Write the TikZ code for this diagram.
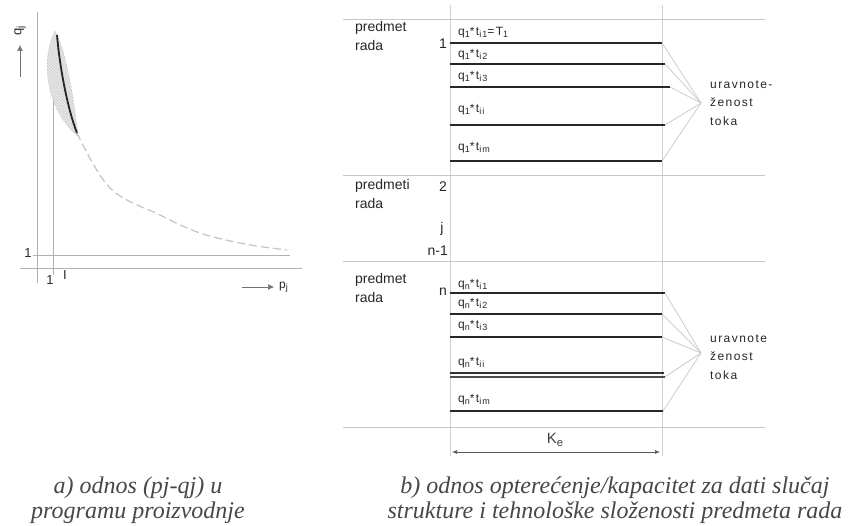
\documentclass[tikz,border=0pt]{standalone}
\usepackage{fontspec}
\setmainfont{Liberation Serif}
\setsansfont{Liberation Sans}
\newfontfamily\spacedsans[LetterSpace=12]{Liberation Sans}
\usetikzlibrary{patterns,arrows.meta}
\newcommand{\lsub}[1]{\raisebox{-0.3ex}{\scalebox{0.75}{#1}}}
\begin{document}
\begin{tikzpicture}[x=1pt,y=-1pt,
  axis/.style={draw=black!30, line width=0.9pt},
  sep/.style={draw=black!22, line width=1pt},
  vline/.style={draw=black!18, line width=1pt},
  bar/.style={draw=black!85, line width=2.6pt},
  fan/.style={draw=black!22, line width=0.7pt},
  lbl/.style={font=\sffamily\fontsize{14}{19}\selectfont, text=black!85, inner sep=0pt, align=left},
  sml/.style={font=\spacedsans\fontsize{12}{12}\selectfont, text=black!85, inner sep=0pt, anchor=west},
  fanlbl/.style={font=\spacedsans\fontsize{12}{18.5}\selectfont, text=black!85, inner sep=0pt, align=left, anchor=west},
  captxt/.style={font=\rmfamily\itshape\fontsize{24}{25}\selectfont, text=black!72, align=center, inner sep=0pt},
  axarrow/.style={draw=black!55, line width=0.7pt, -{Latex[length=6pt,width=6pt]}},
]
\useasboundingbox (0,0) rectangle (868,526);

% ---------- left graph ----------
\coordinate (ya1) at (37,12);  \coordinate (ya2) at (37,283);
\coordinate (xa1) at (20,268); \coordinate (xa2) at (302,268);
\coordinate (v1a) at (53,35);  \coordinate (v1b) at (53,275);
\coordinate (h1a) at (33,255); \coordinate (h1b) at (290,255);
\draw[axis] (ya1) -- (ya2);
\draw[axis] (xa1) -- (xa2);
\draw[axis] (v1a) -- (v1b);
\draw[axis] (h1a) -- (h1b);

\node[font=\sffamily\fontsize{13}{13}\selectfont, text=black!85] (one1) at (28,253) {1};
\node[font=\sffamily\fontsize{13}{13}\selectfont, text=black!85] (one2) at (50,280) {1};
\node[font=\sffamily\fontsize{13}{13}\selectfont, text=black!85] (ell) at (65,275) {I};

% hatched lens
\fill[black!7]
  (55,31) .. controls (40,60) and (46,110) .. (78,136)
          .. controls (74,95) and (64,45) .. (55,31);
\path[pattern=north west lines, pattern color=black!65, draw=black!35, densely dotted]
  (55,31) .. controls (40,60) and (46,110) .. (78,136)
          .. controls (74,95) and (64,45) .. (55,31);
\draw[black!85, line width=1.8pt] (57,35) .. controls (60,70) and (68,110) .. (77,133);
\draw[black!22, line width=1.3pt, dash pattern=on 8pt off 4pt]
  plot[smooth, tension=0.6] coordinates {(77,133) (110,188) (160,215) (200,233) (245,244) (287,250)};

% axis arrows and labels
\node[rotate=90, font=\sffamily\fontsize{13}{13}\selectfont, text=black!85, inner sep=0pt] (qj) at (20,31) {q\lsub{j}};
\coordinate (yarA) at (20,77); \coordinate (yarB) at (20,45);
\draw[axarrow] (yarA) -- (yarB);
\node[font=\sffamily\fontsize{12}{12}\selectfont, text=black!85, inner sep=0pt, anchor=west] (pj) at (279,287) {p\lsub{j}};
\coordinate (xarA) at (242,287); \coordinate (xarB) at (274,287);
\draw[axarrow] (xarA) -- (xarB);

% ---------- right part: frame ----------
\coordinate (vl1a) at (450,5);  \coordinate (vl1b) at (450,456);
\coordinate (vl2a) at (662,5);  \coordinate (vl2b) at (662,456);
\draw[vline] (vl1a) -- (vl1b);
\draw[vline] (vl2a) -- (vl2b);
\foreach \i/\y in {1/20, 2/176, 3/262, 4/428} {
  \coordinate (sa\i) at (343,\y);
  \coordinate (sb\i) at (765,\y);
  \draw[sep] (sa\i) -- (sb\i);
}

% ---------- group 1 ----------
\node[lbl, anchor=north west] (pr1) at (355,21) {predmet\\rada};
\node[lbl] (n1) at (443,44) {1};
\coordinate (apexT) at (701,103);
\foreach \n/\y/\e in {1/43/662, 2/64/665, 3/87/670, 4/125/665, 5/161/662} {
  \coordinate (ts\n) at (450,\y);
  \coordinate (te\n) at (\e,\y);
  \draw[bar] (ts\n) -- (te\n);
  \draw[fan] (te\n) -- (apexT);
}
\node[sml] (t1) at (458,33) {q\lsub{1}*t\lsub{i1}=T\lsub{1}};
\node[sml] (t2) at (458,55) {q\lsub{1}*t\lsub{i2}};
\node[sml] (t3) at (458,77) {q\lsub{1}*t\lsub{i3}};
\node[sml] (t4) at (458,110) {q\lsub{1}*t\lsub{ii}};
\node[sml] (t5) at (458,148) {q\lsub{1}*t\lsub{im}};
\node[fanlbl] (uT) at (710,103) {uravnote-\\ženost\\toka};

% ---------- middle group ----------
\node[lbl, anchor=north west] (pr2) at (355,179) {predmeti\\rada};
\node[lbl] (n2) at (443,187) {2};
\node[lbl] (nj) at (442,229) {j};
\node[lbl, anchor=east] (nn1) at (448,251) {n-1};

% ---------- group n ----------
\node[lbl, anchor=north west] (pr3) at (355,273) {predmet\\rada};
\node[lbl] (nn) at (443,292) {n};
\coordinate (apexB) at (701,353);
\foreach \n/\y/\e in {1/293/665, 2/314/662, 3/337/662, 5/411/663} {
  \coordinate (bs\n) at (450,\y);
  \coordinate (be\n) at (\e,\y);
  \draw[bar] (bs\n) -- (be\n);
  \draw[fan] (be\n) -- (apexB);
}
\coordinate (bs4a) at (450,373.5); \coordinate (be4a) at (664,373.5);
\coordinate (bs4b) at (450,377);   \coordinate (be4) at (665,377);
\draw[draw=black!80, line width=2pt] (bs4a) -- (be4a);
\draw[draw=black!70, line width=1.7pt] (bs4b) -- (be4);
\draw[fan] (be4) -- (apexB);
\node[sml] (b1) at (458,285) {q\lsub{n}*t\lsub{i1}};
\node[sml] (b2) at (458,304) {q\lsub{n}*t\lsub{i2}};
\node[sml] (b3) at (458,326) {q\lsub{n}*t\lsub{i3}};
\node[sml] (b4) at (458,363) {q\lsub{n}*t\lsub{ii}};
\node[sml] (b5) at (458,400) {q\lsub{n}*t\lsub{im}};
\node[fanlbl] (uB) at (710,357) {uravnote\\ženost\\toka};

% ---------- Ke ----------
\node[font=\sffamily\fontsize{15}{15}\selectfont, text=black!75, inner sep=0pt] (ke) at (555,440) {K\lsub{e}};
\coordinate (kA) at (452,452); \coordinate (kB) at (660,452);
\draw[black!65, line width=0.7pt, {Latex[length=5pt,width=4pt]}-{Latex[length=5pt,width=4pt]}] (kA) -- (kB);

% ---------- captions ----------
\node[captxt] (capa) at (138,500) {a) odnos (pj-qj) u\\programu proizvodnje};
\node[captxt] (capb) at (615,500) {b) odnos opterećenje/kapacitet za dati slučaj\\strukture i tehnološke složenosti predmeta rada};
\end{tikzpicture}
\end{document}
